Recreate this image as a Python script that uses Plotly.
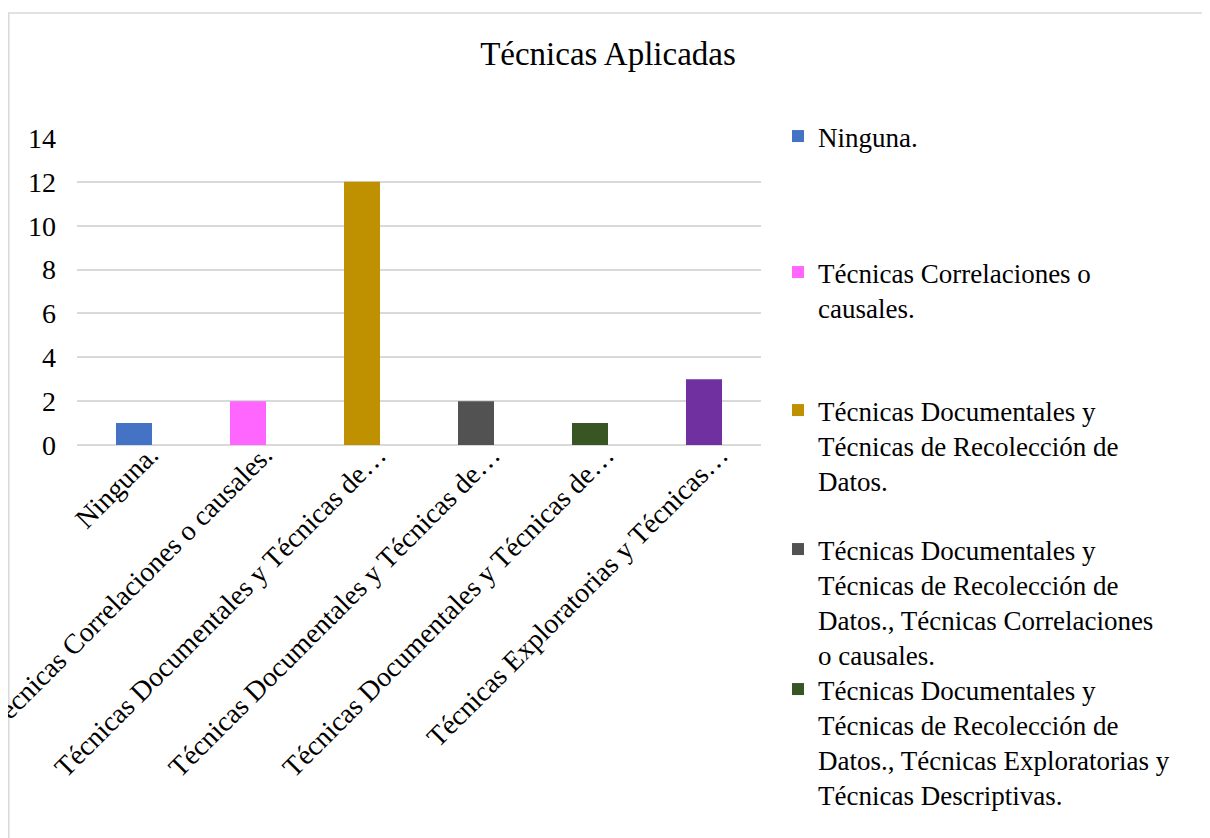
import plotly.graph_objects as go

# Chart data
categories = [
    "Ninguna.",
    "Técnicas Correlaciones o causales.",
    "Técnicas Documentales y Técnicas de Recolección de Datos.",
    "Técnicas Documentales y Técnicas de Recolección de Datos., Técnicas Correlaciones o causales.",
    "Técnicas Documentales y Técnicas de Recolección de Datos., Técnicas Exploratorias y Técnicas Descriptivas.",
    "Técnicas Exploratorias y Técnicas Descriptivas.",
]
values = [1, 2, 12, 2, 1, 3]
tick_labels = [
    "Ninguna.",
    "Técnicas Correlaciones o causales.",
    "Técnicas Documentales y Técnicas de…",
    "Técnicas Documentales y Técnicas de…",
    "Técnicas Documentales y Técnicas de…",
    "Técnicas Exploratorias y Técnicas…",
]
legend_labels = [
    "Ninguna.",
    "Técnicas Correlaciones o<br>causales.",
    "Técnicas Documentales y<br>Técnicas de Recolección de<br>Datos.",
    "Técnicas Documentales y<br>Técnicas de Recolección de<br>Datos., Técnicas Correlaciones<br>o causales.",
    "Técnicas Documentales y<br>Técnicas de Recolección de<br>Datos., Técnicas Exploratorias y<br>Técnicas Descriptivas.",
    "Técnicas Exploratorias y<br>Técnicas Descriptivas.",
]
colors = ["#4472C4", "#FF66FF", "#BF9000", "#525252", "#375623", "#7030A0"]
y_ticks = [0, 2, 4, 6, 8, 10, 12, 14]

# the page body adds an 8px margin, so the figure is drawn 8px smaller
# and every page coordinate below is shifted by OFF
OFF = 8
W, H = 1210 - OFF, 838 - OFF
FONT = "Liberation Serif, Times New Roman, serif"
ML = 77 - OFF
MT = 138 - OFF
MR = W - (761 - OFF)
MB = H - (445 - OFF)

# legend entry first-line centres (page px); the last entry is cut off in the original
legend_tops = [139, 275, 413, 552, 692]

fig = go.Figure()
for i, (cat, val) in enumerate(zip(categories, values)):
    show = i < len(legend_tops)
    fig.add_trace(go.Bar(
        x=[cat], y=[val], name=legend_labels[i],
        marker=dict(color=colors[i], line=dict(width=0)),
        showlegend=show,
        legend="legend" if i == 0 else f"legend{min(i, len(legend_tops) - 1) + 1}",
    ))

legends = {}
for i, top in enumerate(legend_tops):
    key = "legend" if i == 0 else f"legend{i + 1}"
    legends[key] = dict(
        visible=True,
        xref="container", yref="container",
        x=(778 - OFF) / W, y=1 - (top - OFF - 27) / H,
        xanchor="left", yanchor="top",
        bgcolor="rgba(0,0,0,0)",
        font=dict(family=FONT, size=27, color="#000000"),
        valign="top",
    )

# chart border (light grey frame as in the Excel export)
pw, ph = W - ML - MR, H - MT - MB
fig.add_shape(
    type="rect", xref="paper", yref="paper",
    x0=(0.8 - ML) / pw, x1=(1206 - OFF - ML) / pw,
    y0=(H - MB - 860) / ph, y1=(H - MB - (13 - OFF)) / ph,
    line=dict(color="#D9D9D9", width=1.5), fillcolor="rgba(0,0,0,0)", layer="below",
)

fig.update_layout(
    width=W, height=H,
    margin=dict(l=ML, r=MR, t=MT, b=MB, autoexpand=False),
    paper_bgcolor="white", plot_bgcolor="white",
    showlegend=True,
    barmode="overlay", bargap=0.684,
    title=dict(text="Técnicas Aplicadas", x=(608 - OFF) / W, y=1 - (53 - OFF) / H,
               xref="container", yref="container",
               xanchor="center", yanchor="middle",
               font=dict(family=FONT, size=33, color="#000000")),
    font=dict(family=FONT, color="#000000"),
    xaxis=dict(
        tickvals=categories, ticktext=tick_labels, tickangle=-45,
        tickfont=dict(family=FONT, size=28, color="#000000"),
        showgrid=False, showline=False, ticks="", automargin=False,
        ticklabelstandoff=-13, ticklabelshift=16,
    ),
    yaxis=dict(
        range=[0, 14], tickvals=y_ticks,
        tickfont=dict(family=FONT, size=28, color="#000000"),
        showgrid=True, gridcolor="#D9D9D9", gridwidth=1.5,
        zeroline=True, zerolinecolor="#D9D9D9", zerolinewidth=1.5,
        showline=False, ticks="", ticklabelstandoff=20, automargin=False,
    ),
    **legends,
)

fig.write_html("out.html")
